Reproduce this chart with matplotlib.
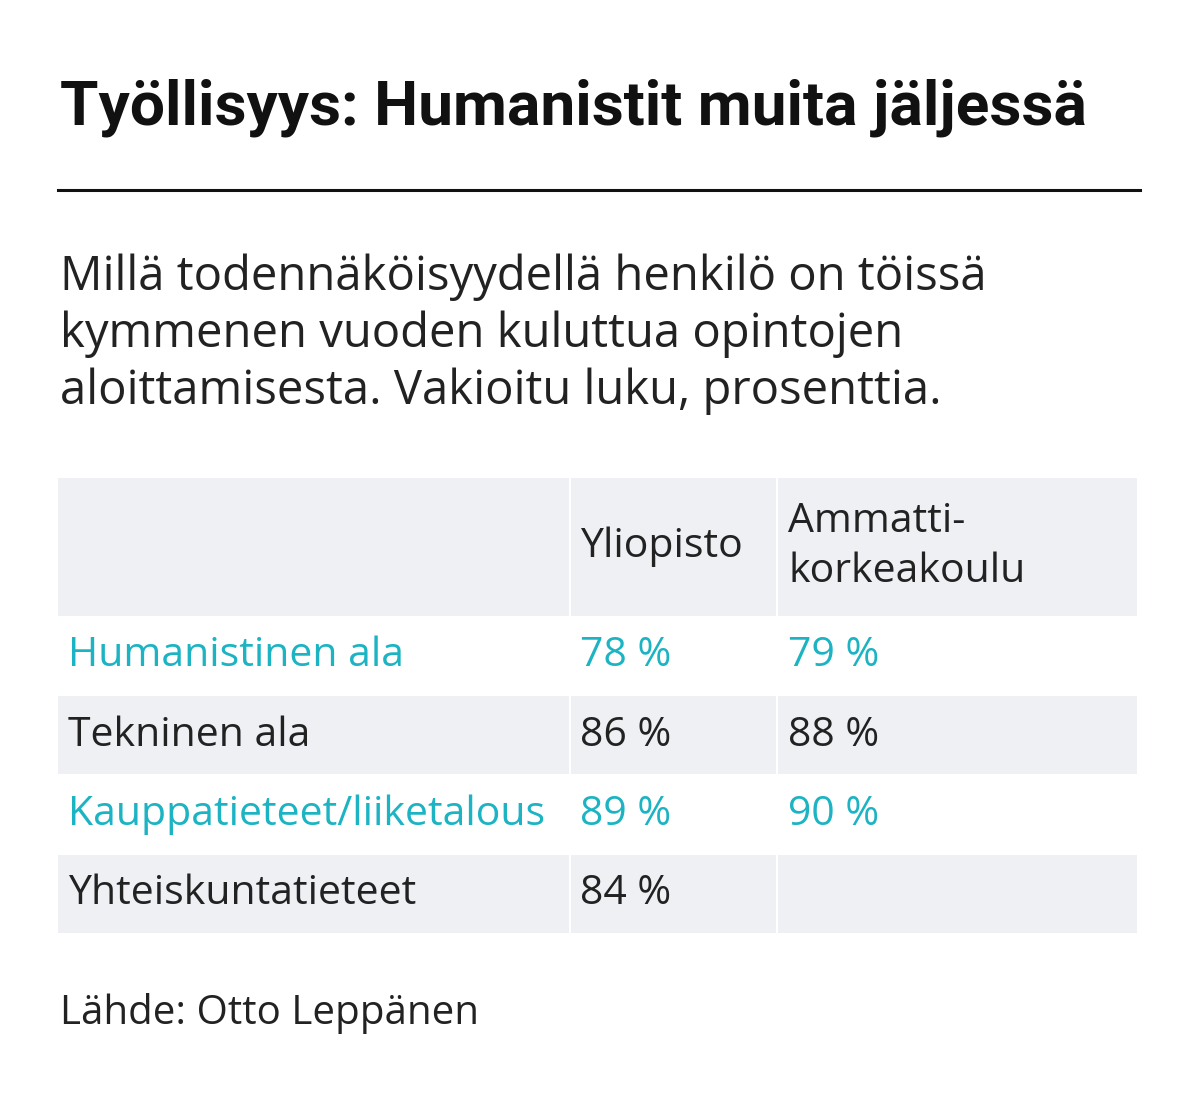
import matplotlib.pyplot as plt
from matplotlib.patches import Rectangle

title = "Työllisyys: Humanistit muita jäljessä"
subtitle = ["Millä todennäköisyydellä henkilö on töissä",
            "kymmenen vuoden kuluttua opintojen",
            "aloittamisesta. Vakioitu luku, prosenttia."]
headers = ["", "Yliopisto", "Ammatti-\nkorkeakoulu"]
fields = ["Humanistinen ala", "Tekninen ala", "Kauppatieteet/liiketalous", "Yhteiskuntatieteet"]
yliopisto = ["78 %", "86 %", "89 %", "84 %"]
amk = ["79 %", "88 %", "90 %", ""]
source = "Lähde: Otto Leppänen"

teal = "#1cb3c3"
grey = "#eef0f4"
font = "Open Sans"

fig = plt.figure(figsize=(11.99, 11.01), dpi=100)
ax = fig.add_axes([0, 0, 1, 1])
ax.set_xlim(0, 1199)
ax.set_ylim(1101, 0)
ax.axis("off")

ax.text(60, 108, title, fontsize=44.8, fontweight="bold", family="Roboto",
        va="center", ha="left", color="#111111")
ax.plot([58, 1140], [190, 190], color="#111111", lw=2.2)
for i, line in enumerate(subtitle):
    ax.text(60, 277 + i * 57, line, fontsize=34, family=font, va="center", color="#222222")

col_x = [58, 569, 776, 1137]
header_top, header_bot = 478, 616
row_h = 79.5
fs = 29.5
# header background
for c in range(3):
    ax.add_patch(Rectangle((col_x[c] + (2 if c else 0), header_top),
                           col_x[c + 1] - col_x[c] - (2 if c else 0), header_bot - header_top,
                           color=grey, lw=0))
ax.text(580, 547, headers[1], fontsize=fs, family=font, va="center", color="#222222")
ax.text(788, 547, headers[2], fontsize=fs, family=font, va="center", color="#222222",
        linespacing=1.3)

for r, (f, y1, y2) in enumerate(zip(fields, yliopisto, amk)):
    top = header_bot + r * row_h
    if r % 2 == 1:
        for c in range(3):
            ax.add_patch(Rectangle((col_x[c] + (2 if c else 0), top),
                                   col_x[c + 1] - col_x[c] - (2 if c else 0), row_h - 1,
                                   color=grey, lw=0))
    col = teal if r % 2 == 0 else "#222222"
    yc = top + row_h / 2
    ax.text(68, yc, f, fontsize=fs, family=font, va="center", color=col)
    ax.text(580, yc, y1, fontsize=fs, family=font, va="center", color=col)
    ax.text(788, yc, y2, fontsize=fs, family=font, va="center", color=col)

ax.text(60, 1013, source, fontsize=29, family=font, va="center", color="#222222")

fig.savefig("out.png", dpi=100, facecolor="white")
